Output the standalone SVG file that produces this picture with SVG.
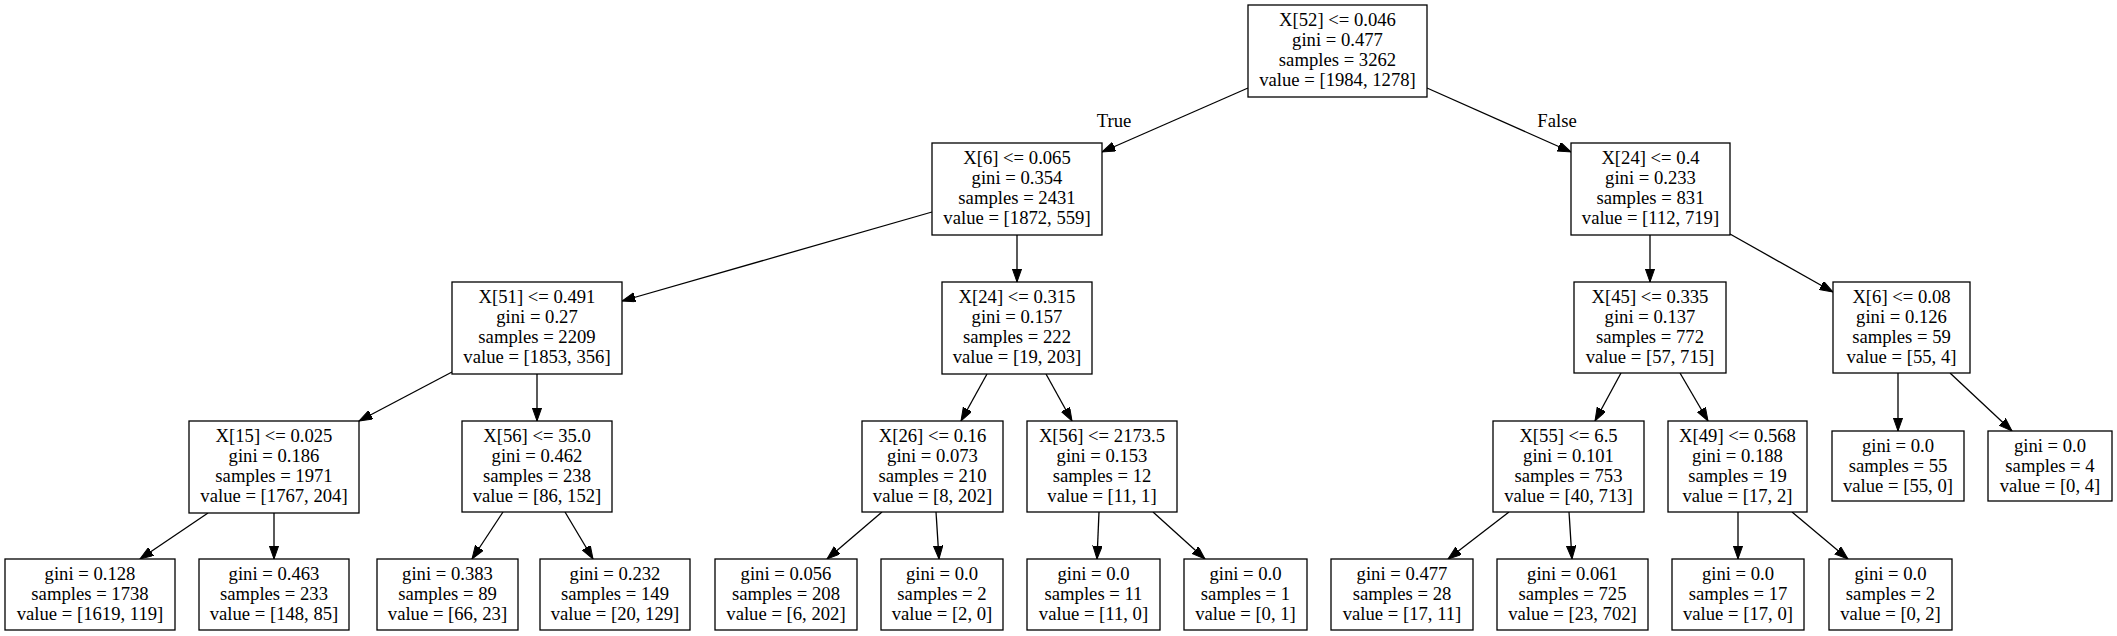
<svg xmlns="http://www.w3.org/2000/svg" width="2117" height="636" viewBox="0 0 2117 636">
<style>
.n rect{fill:#fff;stroke:#000;stroke-width:1.3}
text{font-family:"Liberation Serif","Times New Roman",serif;font-size:18.67px;fill:#000;text-anchor:middle}
#edges line{stroke:#000;stroke-width:1.3;marker-end:url(#ah)}
</style>
<defs>
<marker id="ah" markerUnits="userSpaceOnUse" markerWidth="14" markerHeight="10" refX="13.3" refY="4.7" orient="auto">
<path d="M0,0 L13.3,4.7 L0,9.4 Z" fill="#000" stroke="#000" stroke-width="1"/>
</marker>
</defs>
<rect width="2117" height="636" fill="#fff"/>
<g id="edges">
<line x1="1248" y1="88" x2="1102" y2="152"/>
<line x1="1427" y1="88" x2="1571" y2="152"/>
<line x1="932" y1="212" x2="622" y2="301"/>
<line x1="1017" y1="235" x2="1017" y2="282"/>
<line x1="452" y1="372" x2="359" y2="421"/>
<line x1="537" y1="374" x2="537" y2="421"/>
<line x1="208" y1="513" x2="140" y2="559"/>
<line x1="274" y1="513" x2="274" y2="559"/>
<line x1="503" y1="512" x2="472" y2="559"/>
<line x1="565" y1="512" x2="593" y2="559"/>
<line x1="987" y1="374" x2="961" y2="421"/>
<line x1="1046" y1="374" x2="1072" y2="421"/>
<line x1="882" y1="512" x2="827" y2="559"/>
<line x1="936" y1="512" x2="939" y2="559"/>
<line x1="1099" y1="512" x2="1097" y2="559"/>
<line x1="1153" y1="512" x2="1205" y2="559"/>
<line x1="1650" y1="235" x2="1650" y2="282"/>
<line x1="1730" y1="234" x2="1833" y2="292"/>
<line x1="1621" y1="373" x2="1595" y2="421"/>
<line x1="1680" y1="373" x2="1708" y2="421"/>
<line x1="1898" y1="373" x2="1898" y2="431"/>
<line x1="1950" y1="373" x2="2012" y2="431"/>
<line x1="1509" y1="512" x2="1448" y2="559"/>
<line x1="1569" y1="512" x2="1572" y2="559"/>
<line x1="1738" y1="512" x2="1738" y2="559"/>
<line x1="1792" y1="512" x2="1848" y2="559"/>
<text x="1114" y="127">True</text>
<text x="1557" y="127">False</text>
</g>
<g id="n0" class="n"><rect x="1248" y="5" width="179" height="92"/><text x="1337.5" y="26">X[52] &lt;= 0.046<tspan x="1337.5" dy="20">gini = 0.477</tspan><tspan x="1337.5" dy="20">samples = 3262</tspan><tspan x="1337.5" dy="20">value = [1984, 1278]</tspan></text></g>
<g id="n1" class="n"><rect x="932" y="143" width="170" height="92"/><text x="1017" y="164">X[6] &lt;= 0.065<tspan x="1017" dy="20">gini = 0.354</tspan><tspan x="1017" dy="20">samples = 2431</tspan><tspan x="1017" dy="20">value = [1872, 559]</tspan></text></g>
<g id="n2" class="n"><rect x="452" y="282" width="170" height="92"/><text x="537" y="303">X[51] &lt;= 0.491<tspan x="537" dy="20">gini = 0.27</tspan><tspan x="537" dy="20">samples = 2209</tspan><tspan x="537" dy="20">value = [1853, 356]</tspan></text></g>
<g id="n3" class="n"><rect x="189" y="421" width="170" height="92"/><text x="274" y="442">X[15] &lt;= 0.025<tspan x="274" dy="20">gini = 0.186</tspan><tspan x="274" dy="20">samples = 1971</tspan><tspan x="274" dy="20">value = [1767, 204]</tspan></text></g>
<g id="n4" class="n"><rect x="5" y="559" width="170" height="71"/><text x="90" y="580">gini = 0.128<tspan x="90" dy="20">samples = 1738</tspan><tspan x="90" dy="20">value = [1619, 119]</tspan></text></g>
<g id="n5" class="n"><rect x="199" y="559" width="150" height="71"/><text x="274" y="580">gini = 0.463<tspan x="274" dy="20">samples = 233</tspan><tspan x="274" dy="20">value = [148, 85]</tspan></text></g>
<g id="n6" class="n"><rect x="462" y="421" width="150" height="91"/><text x="537" y="442">X[56] &lt;= 35.0<tspan x="537" dy="20">gini = 0.462</tspan><tspan x="537" dy="20">samples = 238</tspan><tspan x="537" dy="20">value = [86, 152]</tspan></text></g>
<g id="n7" class="n"><rect x="377" y="559" width="141" height="71"/><text x="447.5" y="580">gini = 0.383<tspan x="447.5" dy="20">samples = 89</tspan><tspan x="447.5" dy="20">value = [66, 23]</tspan></text></g>
<g id="n8" class="n"><rect x="540" y="559" width="150" height="71"/><text x="615" y="580">gini = 0.232<tspan x="615" dy="20">samples = 149</tspan><tspan x="615" dy="20">value = [20, 129]</tspan></text></g>
<g id="n9" class="n"><rect x="942" y="282" width="150" height="92"/><text x="1017" y="303">X[24] &lt;= 0.315<tspan x="1017" dy="20">gini = 0.157</tspan><tspan x="1017" dy="20">samples = 222</tspan><tspan x="1017" dy="20">value = [19, 203]</tspan></text></g>
<g id="n10" class="n"><rect x="862" y="421" width="141" height="91"/><text x="932.5" y="442">X[26] &lt;= 0.16<tspan x="932.5" dy="20">gini = 0.073</tspan><tspan x="932.5" dy="20">samples = 210</tspan><tspan x="932.5" dy="20">value = [8, 202]</tspan></text></g>
<g id="n11" class="n"><rect x="715" y="559" width="142" height="71"/><text x="786" y="580">gini = 0.056<tspan x="786" dy="20">samples = 208</tspan><tspan x="786" dy="20">value = [6, 202]</tspan></text></g>
<g id="n12" class="n"><rect x="881" y="559" width="122" height="71"/><text x="942" y="580">gini = 0.0<tspan x="942" dy="20">samples = 2</tspan><tspan x="942" dy="20">value = [2, 0]</tspan></text></g>
<g id="n13" class="n"><rect x="1027" y="421" width="150" height="91"/><text x="1102" y="442">X[56] &lt;= 2173.5<tspan x="1102" dy="20">gini = 0.153</tspan><tspan x="1102" dy="20">samples = 12</tspan><tspan x="1102" dy="20">value = [11, 1]</tspan></text></g>
<g id="n14" class="n"><rect x="1027" y="559" width="133" height="71"/><text x="1093.5" y="580">gini = 0.0<tspan x="1093.5" dy="20">samples = 11</tspan><tspan x="1093.5" dy="20">value = [11, 0]</tspan></text></g>
<g id="n15" class="n"><rect x="1184" y="559" width="123" height="71"/><text x="1245.5" y="580">gini = 0.0<tspan x="1245.5" dy="20">samples = 1</tspan><tspan x="1245.5" dy="20">value = [0, 1]</tspan></text></g>
<g id="n16" class="n"><rect x="1571" y="143" width="159" height="92"/><text x="1650.5" y="164">X[24] &lt;= 0.4<tspan x="1650.5" dy="20">gini = 0.233</tspan><tspan x="1650.5" dy="20">samples = 831</tspan><tspan x="1650.5" dy="20">value = [112, 719]</tspan></text></g>
<g id="n17" class="n"><rect x="1574" y="282" width="152" height="91"/><text x="1650" y="303">X[45] &lt;= 0.335<tspan x="1650" dy="20">gini = 0.137</tspan><tspan x="1650" dy="20">samples = 772</tspan><tspan x="1650" dy="20">value = [57, 715]</tspan></text></g>
<g id="n18" class="n"><rect x="1493" y="421" width="151" height="91"/><text x="1568.5" y="442">X[55] &lt;= 6.5<tspan x="1568.5" dy="20">gini = 0.101</tspan><tspan x="1568.5" dy="20">samples = 753</tspan><tspan x="1568.5" dy="20">value = [40, 713]</tspan></text></g>
<g id="n19" class="n"><rect x="1331" y="559" width="142" height="71"/><text x="1402" y="580">gini = 0.477<tspan x="1402" dy="20">samples = 28</tspan><tspan x="1402" dy="20">value = [17, 11]</tspan></text></g>
<g id="n20" class="n"><rect x="1497" y="559" width="151" height="71"/><text x="1572.5" y="580">gini = 0.061<tspan x="1572.5" dy="20">samples = 725</tspan><tspan x="1572.5" dy="20">value = [23, 702]</tspan></text></g>
<g id="n21" class="n"><rect x="1668" y="421" width="139" height="91"/><text x="1737.5" y="442">X[49] &lt;= 0.568<tspan x="1737.5" dy="20">gini = 0.188</tspan><tspan x="1737.5" dy="20">samples = 19</tspan><tspan x="1737.5" dy="20">value = [17, 2]</tspan></text></g>
<g id="n22" class="n"><rect x="1672" y="559" width="132" height="71"/><text x="1738" y="580">gini = 0.0<tspan x="1738" dy="20">samples = 17</tspan><tspan x="1738" dy="20">value = [17, 0]</tspan></text></g>
<g id="n23" class="n"><rect x="1829" y="559" width="123" height="71"/><text x="1890.5" y="580">gini = 0.0<tspan x="1890.5" dy="20">samples = 2</tspan><tspan x="1890.5" dy="20">value = [0, 2]</tspan></text></g>
<g id="n24" class="n"><rect x="1833" y="282" width="137" height="91"/><text x="1901.5" y="303">X[6] &lt;= 0.08<tspan x="1901.5" dy="20">gini = 0.126</tspan><tspan x="1901.5" dy="20">samples = 59</tspan><tspan x="1901.5" dy="20">value = [55, 4]</tspan></text></g>
<g id="n25" class="n"><rect x="1832" y="431" width="132" height="70"/><text x="1898" y="452">gini = 0.0<tspan x="1898" dy="20">samples = 55</tspan><tspan x="1898" dy="20">value = [55, 0]</tspan></text></g>
<g id="n26" class="n"><rect x="1988" y="431" width="124" height="70"/><text x="2050" y="452">gini = 0.0<tspan x="2050" dy="20">samples = 4</tspan><tspan x="2050" dy="20">value = [0, 4]</tspan></text></g>
</svg>
